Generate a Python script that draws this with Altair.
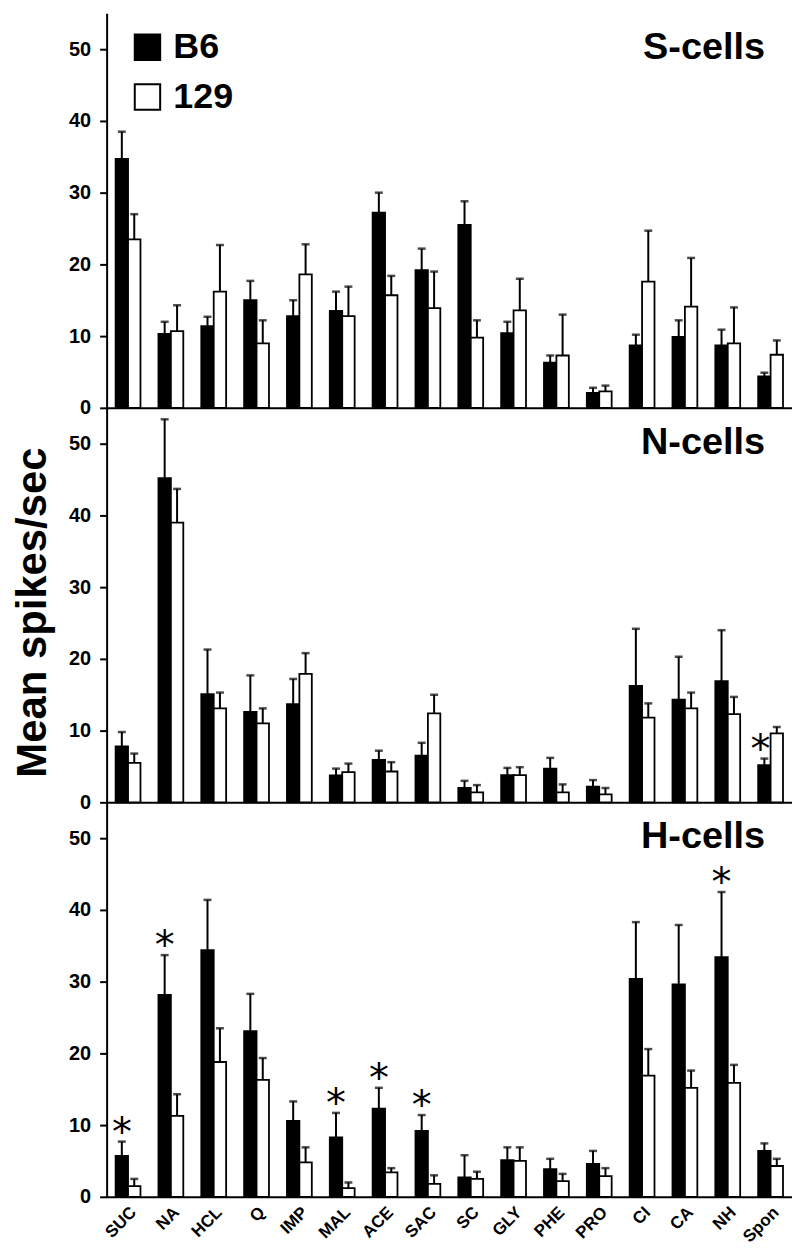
import altair as alt
import pandas as pd

categories = ["SUC", "NA", "HCL", "Q", "IMP", "MAL", "ACE", "SAC",
              "SC", "GLY", "PHE", "PRO", "CI", "CA", "NH", "Spon"]
series = ["B6", "129"]

# S-cells
s_b6 = [34.7, 10.3, 11.4, 15.0, 12.8, 13.5, 27.2, 19.2, 25.5, 10.4, 6.3, 2.1, 8.7, 9.9, 8.7, 4.4]
s_b6_sem = [3.8, 1.7, 1.3, 2.7, 2.2, 2.7, 2.8, 3.0, 3.3, 1.6, 1.0, 0.7, 1.5, 2.3, 2.2, 0.5]
s_129 = [23.5, 10.7, 16.2, 9.0, 18.6, 12.8, 15.7, 13.9, 9.8, 13.6, 7.3, 2.3, 17.6, 14.1, 9.0, 7.4]
s_129_sem = [3.5, 3.6, 6.5, 3.2, 4.2, 4.1, 2.7, 5.1, 2.4, 4.4, 5.7, 0.8, 7.1, 6.8, 5.0, 2.0]

# N-cells
n_b6 = [7.8, 45.2, 15.1, 12.6, 13.7, 3.75, 5.9, 6.5, 2.0, 3.8, 4.7, 2.2, 16.25, 14.3, 16.9, 5.2]
n_b6_sem = [2.0, 8.2, 6.2, 5.1, 3.5, 0.95, 1.3, 1.8, 1.0, 1.0, 1.5, 0.9, 7.95, 6.0, 7.1, 0.9]
n_129 = [5.5, 39.0, 13.1, 11.0, 17.9, 4.2, 4.3, 12.4, 1.4, 3.8, 1.4, 1.1, 11.8, 13.1, 12.3, 9.6]
n_129_sem = [1.3, 4.7, 2.2, 2.1, 2.9, 1.2, 1.3, 2.6, 1.0, 1.1, 1.1, 0.9, 2.0, 2.2, 2.4, 0.9]

# H-cells
h_b6 = [5.7, 28.15, 34.4, 23.1, 10.6, 8.3, 12.3, 9.2, 2.7, 5.1, 3.85, 4.6, 30.4, 29.6, 33.4, 6.4]
h_b6_sem = [2.0, 5.55, 7.0, 5.2, 2.7, 3.4, 2.9, 2.2, 3.1, 1.8, 1.45, 1.8, 7.9, 8.3, 9.1, 1.05]
h_129 = [1.5, 11.3, 18.8, 16.3, 4.8, 1.2, 3.4, 1.8, 2.5, 5.0, 2.2, 2.9, 16.9, 15.2, 15.9, 4.3]
h_129_sem = [1.0, 3.0, 4.7, 3.05, 2.1, 0.8, 0.6, 1.2, 1.0, 1.9, 1.0, 1.1, 3.7, 2.4, 2.5, 1.0]

panel_names = ["S-cells", "N-cells", "H-cells"]
stars_s = []
stars_n = ["Spon"]
stars_h = ["SUC", "NA", "MAL", "ACE", "SAC", "NH"]

FONT = "Liberation Sans"
W = 688
H = 396


def build_df(b6, b6e, w129, w129e):
    rows = []
    for i, c in enumerate(categories):
        rows.append({"cat": c, "series": "B6", "mean": b6[i], "top": b6[i] + b6e[i]})
        rows.append({"cat": c, "series": "129", "mean": w129[i], "top": w129[i] + w129e[i]})
    return pd.DataFrame(rows)


def panel(name, df, stars, bottom, middle, star_dx=0):
    if bottom:
        xaxis = alt.Axis(title=None, labelAngle=315, labelAlign="right", labelBaseline="top",
                         labelFontSize=17, labelFontWeight="bold",
                         labelFont=FONT, labelColor="black", ticks=False, labelPadding=7,
                         domainWidth=2, domainColor="black")
    else:
        xaxis = alt.Axis(title=None, labels=False, ticks=False, domainWidth=2, domainColor="black")
    yaxis = alt.Axis(
        values=list(range(0, 56, 5)),
        labelExpr="datum.value % 10 == 0 ? datum.label : ''",
        tickSize=7, tickWidth=2, tickColor="black", domainWidth=2, domainColor="black",
        labelFontSize=20, labelFontWeight="bold", labelFont=FONT, labelColor="black",
        labelPadding=9, grid=False,
        title="Mean spikes/sec" if middle else None,
        titleFontSize=42, titleFont=FONT, titleFontWeight="bold", titleColor="black",
        titlePadding=14, titleLimit=600, titleY=H / 2 + 7,
    )
    x = alt.X("cat:N", sort=categories, scale=alt.Scale(paddingInner=0.42, paddingOuter=0.21), axis=xaxis)
    xo = alt.XOffset("series:N", sort=series, scale=alt.Scale(domain=series))
    yscale = alt.Scale(domain=[0, 55], nice=False, zero=True)

    base = alt.Chart(df)
    bars = base.mark_bar(stroke="black", strokeWidth=1.8).encode(
        x=x, xOffset=xo,
        y=alt.Y("mean:Q", scale=yscale, axis=yaxis),
        fill=alt.Fill("series:N", sort=series,
                      scale=alt.Scale(domain=series, range=["black", "white"]),
                      legend=alt.Legend(orient="none", legendX=23, legendY=16, title=None,
                                        symbolType="square", symbolSize=650,
                                        symbolStrokeColor="black", symbolStrokeWidth=2,
                                        labelFontSize=36, labelFontWeight="bold", labelFont=FONT,
                                        labelColor="black", rowPadding=14, labelOffset=8,
                                        padding=0)),
    )
    err = base.mark_rule(color="black", strokeWidth=2).encode(
        x=x, xOffset=xo, y=alt.Y("mean:Q", scale=yscale), y2="top:Q")
    cap = base.mark_tick(color="black", thickness=2.5, size=8).encode(
        x=x, xOffset=xo, y=alt.Y("top:Q", scale=yscale))
    title = alt.Chart(pd.DataFrame({"t": [name]})).mark_text(
        align="right", baseline="alphabetic", fontSize=38, fontWeight="bold", font=FONT,
        color="black").encode(text="t:N", x=alt.value(661), y=alt.value(46))
    layers = [bars, err, cap, title]
    if stars:
        sdf = df[(df["series"] == "B6") & (df["cat"].isin(stars))].copy()
        sdf["star"] = "*"
        star = alt.Chart(sdf).mark_text(
            baseline="alphabetic", fontSize=40, font="DejaVu Sans", color="black", dy=3, dx=star_dx
        ).encode(x=x, xOffset=xo, y=alt.Y("top:Q", scale=yscale), text="star:N")
        layers.append(star)
    return alt.layer(*layers).properties(width=W, height=H)


top = panel("S-cells", build_df(s_b6, s_b6_sem, s_129, s_129_sem), stars_s, False, False)
mid = panel("N-cells", build_df(n_b6, n_b6_sem, n_129, n_129_sem), stars_n, False, True, star_dx=-4)
bot = panel("H-cells", build_df(h_b6, h_b6_sem, h_129, h_129_sem), stars_h, True, False)

chart = alt.vconcat(top, mid, bot, spacing=0, bounds="flush").properties(
    padding={"left": 3, "top": 3, "right": 0, "bottom": 0}
).configure(background="white").configure_view(stroke=None)

chart.save("out.html", embed_options={"renderer": "svg", "actions": False})
